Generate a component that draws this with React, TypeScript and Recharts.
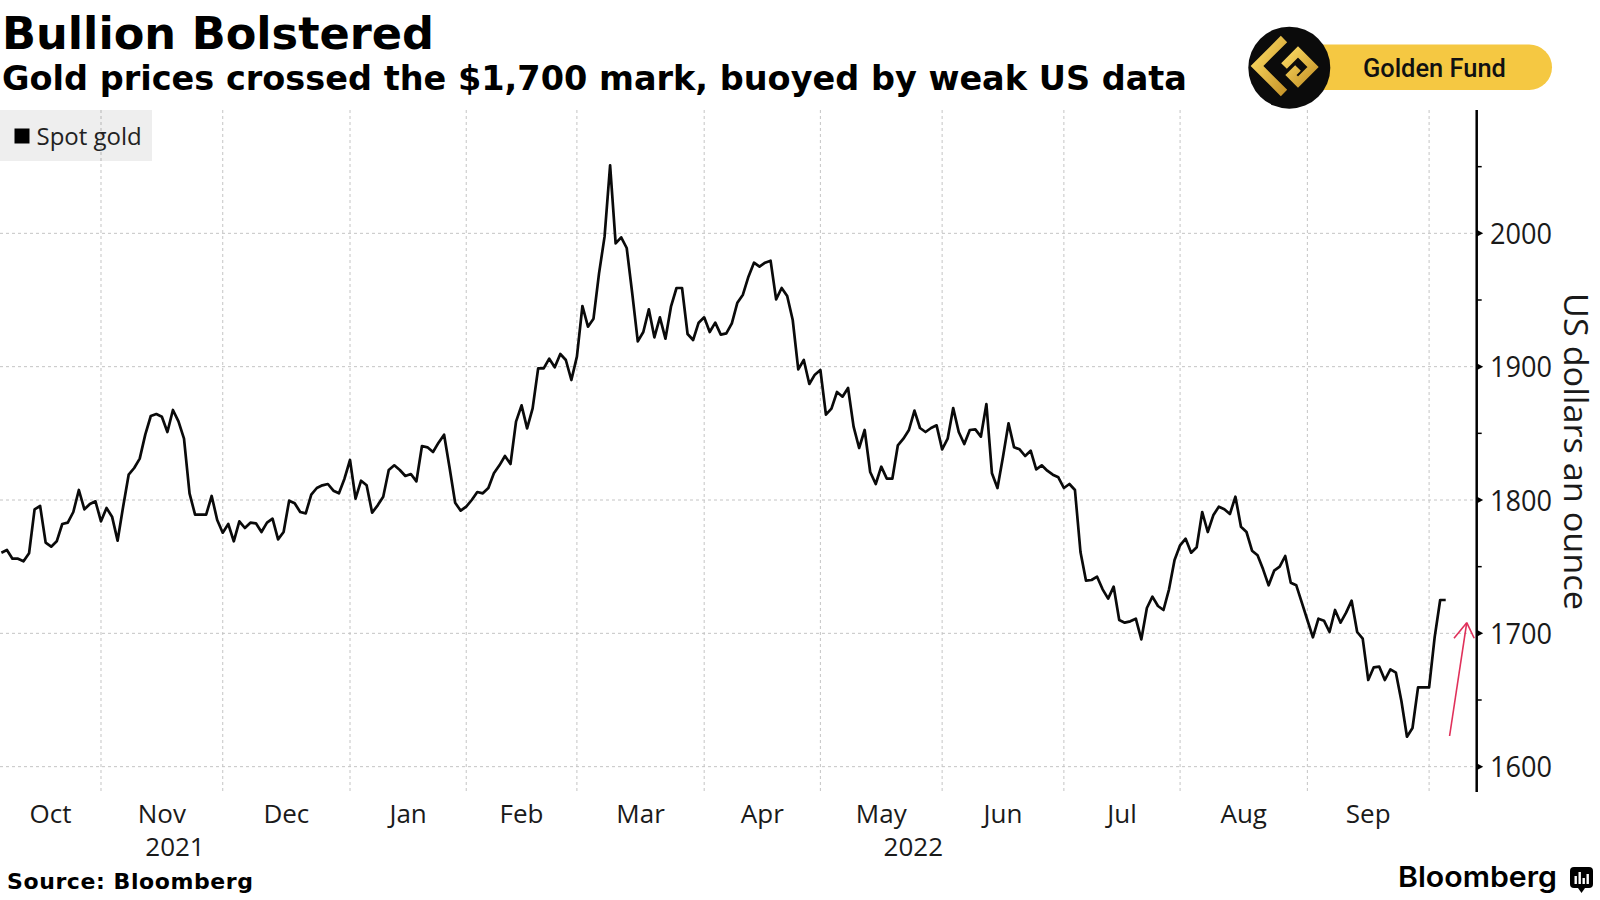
import React from 'react';
import { LineChart, Line, XAxis, YAxis, CartesianGrid, ReferenceLine } from 'recharts';

// Spot gold, one value per trading (week)day, first value = weekday #3 after 1 Oct 2021
const FIRST_DAY = 3;
const spotGold: number[] = [
  // Oct 2021
  1760.5, 1762.5, 1756, 1756, 1754, 1760, 1793, 1795.5, 1768, 1765, 1769, 1782, 1783, 1791, 1807.5, 1793, 1797, 1799,
  // Nov
  1784, 1794, 1787.5, 1769.5, 1795, 1819, 1824, 1831, 1849, 1863, 1864.5, 1862.5, 1851, 1867.5, 1859, 1846, 1805, 1789, 1789, 1789, 1803, 1785,
  // Dec
  1775.5, 1782, 1769, 1784, 1779, 1783, 1782.5, 1776, 1783, 1786, 1770.5, 1776, 1799.5, 1797.5, 1791, 1790, 1804, 1809, 1811, 1812, 1807, 1805, 1816,
  // Jan 2022
  1830, 1801, 1814.5, 1811, 1790.5, 1796, 1802.5, 1822.5, 1826, 1822.5, 1818, 1819.5, 1814, 1840.5, 1839.5, 1836, 1843, 1849, 1824, 1798, 1792,
  // Feb
  1795, 1800, 1806, 1805, 1809, 1820, 1826, 1833, 1827, 1858.75, 1871, 1853.75, 1868.75, 1898.75, 1898.75, 1906, 1899.5, 1909.5, 1905, 1890,
  // Mar
  1907.5, 1945.5, 1930, 1936, 1970, 1997.5, 2051, 1992.5, 1997, 1989, 1955, 1919, 1926, 1943, 1922, 1937, 1921, 1945, 1959, 1959, 1924.5, 1920, 1933,
  // Apr
  1937, 1926, 1933, 1924, 1925, 1932.5, 1948, 1954, 1967.5, 1978, 1975, 1978, 1979.5, 1950.5, 1959, 1953, 1935, 1898, 1905, 1887, 1894,
  // May
  1897.5, 1864, 1868.5, 1881, 1877.5, 1884, 1855, 1839, 1852.5, 1821, 1812, 1825, 1816, 1816, 1841, 1846, 1852.5, 1867, 1854, 1851, 1854, 1856,
  // Jun
  1838, 1846, 1869, 1851, 1842, 1852.5, 1853, 1847.5, 1872, 1820, 1809, 1832.5, 1857.5, 1839.5, 1838, 1833, 1837, 1823, 1826, 1822, 1819, 1817,
  // Jul
  1809, 1812, 1807.5, 1761, 1739.5, 1740, 1742.5, 1733, 1726, 1735, 1710, 1708, 1709, 1711, 1695.5, 1719, 1727.5, 1720.5, 1717.5, 1733, 1755,
  // Aug
  1766, 1771, 1760.5, 1764.5, 1791, 1776, 1788.5, 1795, 1793, 1789.5, 1802.5, 1780, 1776, 1762, 1758.5, 1748, 1736, 1747, 1750, 1758, 1738, 1736, 1723,
  // Sep
  1710, 1697, 1711, 1709.5, 1701, 1717.5, 1708, 1715.5, 1724.5, 1701, 1696, 1665, 1674.5, 1675, 1665, 1673, 1670.5, 1649, 1622.5, 1629, 1659.5, 1659.5,
  // Oct 2022
  1659.5, 1697, 1725, 1725,
];

// weekday index of the first trading day of each month (Nov 2021 .. Oct 2022)
const MONTH_STARTS = [21, 43, 66, 87, 107, 130, 151, 173, 195, 216, 239, 261];
const MONTH_LABELS = ['Oct', 'Nov', 'Dec', 'Jan', 'Feb', 'Mar', 'Apr', 'May', 'Jun', 'Jul', 'Aug', 'Sep'];
const YEAR_STARTS = [66];
const YEAR_LABELS = ['2021', '2022'];
const X_DOMAIN: [number, number] = [2.75, 269.6];
const Y_DOMAIN: [number, number] = [1581, 2092.5];
const Y_MAJOR = [1600, 1700, 1800, 1900, 2000];
const Y_MINOR = [1650, 1750, 1850, 1950, 2050];
// red annotation arrow (weekday index, USD)
const ARROW_SHAFT = [{ x: 264.7, y: 1623 }, { x: 267.8, y: 1708 }];
const ARROW_WING_L = [{ x: 265.5, y: 1696.3 }, { x: 267.8, y: 1708 }];
const ARROW_WING_R = [{ x: 269.15, y: 1696.3 }, { x: 267.8, y: 1708 }];

const rows = spotGold.map((v, i) => ({ day: FIRST_DAY + i, price: v }));
const monthMids = MONTH_LABELS.map((_, i) => ((i === 0 ? X_DOMAIN[0] : MONTH_STARTS[i - 1]) + MONTH_STARTS[i]) / 2);
const yearBounds = [X_DOMAIN[0], ...YEAR_STARTS, X_DOMAIN[1]];
const yearMids = YEAR_LABELS.map((_, i) => (yearBounds[i] + yearBounds[i + 1]) / 2);
const labelTicks = [...monthMids, ...yearMids].sort((a, b) => a - b);
const yTicks = [...Y_MAJOR, ...Y_MINOR].sort((a, b) => a - b);

const SANS = '"Open Sans", "Noto Sans", sans-serif';
const TITLE = '"DejaVu Sans", sans-serif';

const EmptyTick = () => <g />;

const XTick = (props: any) => {
  const { x, y, payload } = props;
  const v = payload.value;
  const mi = monthMids.findIndex((m) => Math.abs(m - v) < 1e-6);
  if (mi >= 0) {
    return (
      <text x={x} y={y + 31} textAnchor="middle" fontFamily={SANS} fontSize={26} fill="#1a1a1a">
        {MONTH_LABELS[mi]}
      </text>
    );
  }
  const yi = yearMids.findIndex((m) => Math.abs(m - v) < 1e-6);
  if (yi >= 0) {
    return (
      <text x={x} y={y + 64} textAnchor="middle" fontFamily={SANS} fontSize={26} fill="#1a1a1a">
        {YEAR_LABELS[yi]}
      </text>
    );
  }
  return <g />;
};

const YTick = (props: any) => {
  const { x, y, payload } = props;
  const v = payload.value;
  if (Y_MAJOR.includes(v)) {
    return (
      <g>
        <path d={`M${x},${y - 3.5} L${x + 6.5},${y} L${x},${y + 3.5} Z`} fill="#000" />
        <text x={x + 13.3} y={y + 10.5} fontFamily={SANS} fontSize={29} fill="#1a1a1a" textLength={62} lengthAdjust="spacingAndGlyphs">
          {String(v)}
        </text>
      </g>
    );
  }
  return <line x1={x} x2={x + 5} y1={y} y2={y} stroke="#000" strokeWidth={1.5} />;
};

export default function App() {
  return (
    <div style={{ position: 'absolute', left: 0, top: 0, width: 1600, height: 900, background: '#fff', overflow: 'hidden' }}>
      <LineChart width={1600} height={900} data={rows} margin={{ top: 110, right: 0, bottom: 48, left: 0 }}>
        <CartesianGrid xAxisId="grid" yAxisId="main" stroke="#c4c4c4" strokeDasharray="3 3" strokeWidth={1}
          verticalValues={MONTH_STARTS} horizontalValues={Y_MAJOR} />
        <XAxis xAxisId="grid" dataKey="day" type="number" domain={X_DOMAIN} allowDataOverflow ticks={MONTH_STARTS} interval={0}
          tick={EmptyTick} tickLine={false} axisLine={false} height={0} tickSize={0} tickMargin={0} />
        <XAxis xAxisId="labels" dataKey="day" type="number" domain={X_DOMAIN} allowDataOverflow ticks={labelTicks} interval={0}
          tick={XTick} tickLine={false} axisLine={false} tickSize={0} tickMargin={0} height={60} />
        <YAxis yAxisId="main" orientation="right" type="number" domain={Y_DOMAIN} allowDataOverflow ticks={yTicks} interval={0}
          width={123.3} tickSize={0} tickMargin={0} tickLine={false} axisLine={{ stroke: '#000', strokeWidth: 2.5 }} tick={YTick} />
        <Line xAxisId="grid" yAxisId="main" type="linear" dataKey="price" stroke="#0a0a0a" strokeWidth={2.7} dot={false}
          activeDot={false} isAnimationActive={false} strokeLinejoin="round" />
        <ReferenceLine xAxisId="grid" yAxisId="main" segment={ARROW_SHAFT} stroke="#e0305a" strokeWidth={1.6} ifOverflow="visible" />
        <ReferenceLine xAxisId="grid" yAxisId="main" segment={ARROW_WING_L} stroke="#e0305a" strokeWidth={1.6} ifOverflow="visible" />
        <ReferenceLine xAxisId="grid" yAxisId="main" segment={ARROW_WING_R} stroke="#e0305a" strokeWidth={1.6} ifOverflow="visible" />
      </LineChart>

      <svg width={1600} height={900} style={{ position: 'absolute', left: 0, top: 0, pointerEvents: 'none' }}>
        <defs>
          <linearGradient id="gold" x1="0" y1="0" x2="1" y2="1">
            <stop offset="0%" stopColor="#FBDA62" />
            <stop offset="100%" stopColor="#C8962A" />
          </linearGradient>
        </defs>
        <text x={2} y={49} fontFamily={TITLE} fontWeight={700} fontSize={45} fill="#000" textLength={432} lengthAdjust="spacingAndGlyphs">
          Bullion Bolstered
        </text>
        <text x={2} y={90} fontFamily={TITLE} fontWeight={700} fontSize={33} fill="#000" textLength={1185} lengthAdjust="spacingAndGlyphs">
          Gold prices crossed the $1,700 mark, buoyed by weak US data
        </text>

        {/* legend */}
        <rect x={0} y={110} width={152} height={51} fill="rgba(0,0,0,0.065)" />
        <rect x={14.5} y={128.5} width={15} height={15} fill="#000" />
        <text x={36.5} y={145} fontFamily={SANS} fontSize={24} fill="#222">Spot gold</text>

        {/* y axis title */}
        <text transform="translate(1564,451.5) rotate(90)" textAnchor="middle" fontFamily={SANS} fontSize={33} fill="#1a1a1a"
          textLength={317} lengthAdjust="spacingAndGlyphs">
          US dollars an ounce
        </text>

        {/* Golden Fund badge */}
        <rect x={1300} y={44.5} width={252} height={45.5} rx={22.75} fill="#F5C842" />
        <circle cx={1289.3} cy={67.7} r={41} fill="#0b0b0b" />
        <path d="M1284,39 L1257,66 L1284,93" fill="none" stroke="url(#gold)" strokeWidth={9} strokeLinejoin="miter" />
        <path d="M1284,66 L1298,52 L1313,67 L1298,82 L1291,75 L1298,68" fill="none" stroke="url(#gold)" strokeWidth={8} strokeLinejoin="miter" />
        <text x={1434.4} y={77} textAnchor="middle" fontFamily="Roboto, sans-serif" fontWeight={500} fontSize={26} fill="#111"
          textLength={143} lengthAdjust="spacingAndGlyphs">
          Golden Fund
        </text>

        {/* footer */}
        <text x={7} y={889} fontFamily={TITLE} fontWeight={700} fontSize={22} fill="#000" textLength={246} lengthAdjust="spacing">
          Source: Bloomberg
        </text>
        <text x={1398} y={887} fontFamily="Inter, sans-serif" fontWeight={600} fontSize={29} fill="#000" textLength={159} lengthAdjust="spacingAndGlyphs">
          Bloomberg
        </text>
        <rect x={1570} y={867} width={23} height={21} rx={4} fill="#000" />
        <path d="M1578,888 L1581.5,893 L1585,888 Z" fill="#000" />
        <rect x={1574.5} y={876} width={2.4} height={8} fill="#fff" />
        <rect x={1578.5} y={872} width={2.4} height={12} fill="#fff" />
        <rect x={1582.5} y={878} width={2.4} height={6} fill="#fff" />
        <rect x={1586.5} y={874} width={2.4} height={10} fill="#fff" />
      </svg>
    </div>
  );
}
